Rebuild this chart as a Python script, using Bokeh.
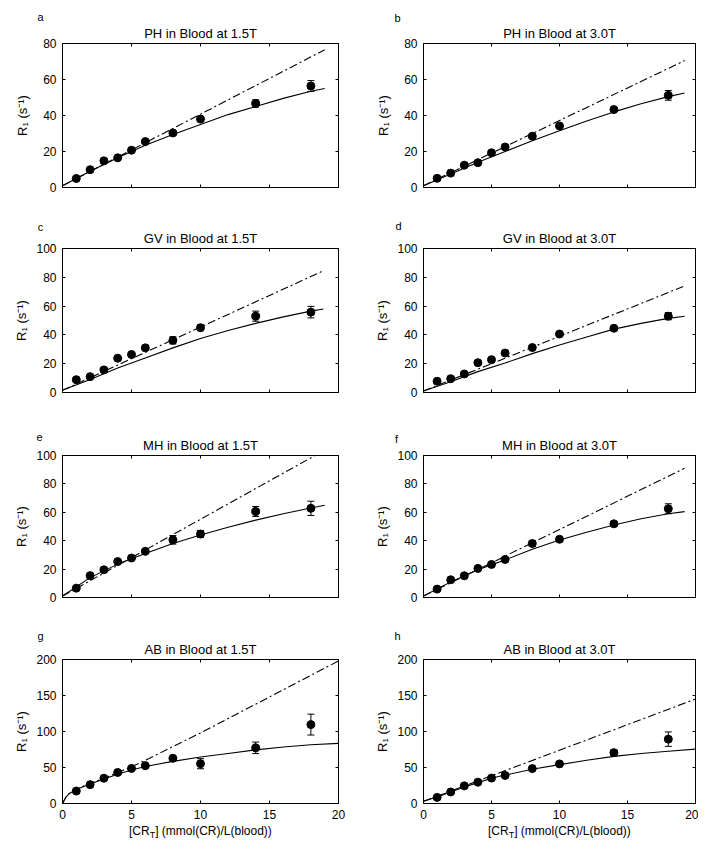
from bokeh.plotting import figure
from bokeh.models import (Range1d, LinearAxis, FixedTicker, Whisker, ColumnDataSource,
                          Label, TeeHead, CustomJSTickFormatter, Title, Div)
from bokeh.layouts import column, row
from bokeh.embed import file_html
from bokeh.resources import INLINE

FONT = "Liberation Sans"

# ---------------- data ----------------
conc = [1, 2, 3, 4, 5, 6, 8, 10, 14, 18]
x_ticks = [0, 5, 10, 15, 20]

# a: PH 1.5T
ph15_r1 = [5.0, 9.9, 14.8, 16.5, 20.7, 25.5, 30.3, 38.0, 46.7, 56.4]
ph15_err = [0.5, 0.5, 1.0, 0.5, 0.5, 0.5, 1.0, 1.0, 2.0, 3.0]
ph15_fit_x = [0, 2, 4, 6, 8, 10, 12, 14, 16, 18, 19]
ph15_fit_y = [1, 9, 16.5, 23.5, 29.5, 35, 40.5, 45, 49.5, 53.5, 55]
ph15_lin_x = [0, 19]
ph15_lin_y = [1, 76.5]

# b: PH 3.0T
ph30_r1 = [5.1, 8.0, 12.4, 13.8, 19.3, 22.5, 28.5, 34.2, 43.3, 51.2]
ph30_err = [0.5, 0.5, 0.5, 0.5, 0.5, 0.5, 0.8, 1.0, 1.0, 2.7]
ph30_fit_x = [0, 2, 4, 6, 8, 10, 12, 14, 16, 18, 19.2]
ph30_fit_y = [1, 7.5, 14, 20, 26, 31.5, 37, 42, 46.5, 50.5, 52.5]
ph30_lin_x = [0, 19.2]
ph30_lin_y = [1, 70.5]

# c: GV 1.5T
gv15_r1 = [8.9, 11.0, 15.7, 23.8, 26.4, 31.0, 36.2, 45.0, 53.0, 55.8]
gv15_err = [0.5, 0.5, 0.8, 0.5, 0.5, 0.5, 2.5, 2.0, 3.5, 4.0]
gv15_fit_x = [0, 2, 4, 6, 8, 10, 12, 14, 16, 18, 18.9]
gv15_fit_y = [1.5, 9, 17, 24, 31, 37.5, 43, 48, 52.5, 56.5, 58]
gv15_lin_x = [0, 18.9]
gv15_lin_y = [1.5, 84.5]

# d: GV 3.0T
gv30_r1 = [7.8, 9.6, 12.9, 20.7, 22.8, 27.4, 31.2, 40.6, 44.6, 53.0]
gv30_err = [0.5, 0.5, 0.5, 0.5, 0.5, 0.5, 0.5, 0.5, 1.0, 2.5]
gv30_fit_x = [0, 2, 4, 6, 8, 10, 12, 14, 16, 18, 19.2]
gv30_fit_y = [1, 7.5, 14.5, 20.5, 27, 33, 38.5, 44, 48, 51.5, 53]
gv30_lin_x = [0, 19.2]
gv30_lin_y = [1, 74]

# e: MH 1.5T
mh15_r1 = [6.6, 15.4, 19.5, 25.3, 27.8, 32.5, 40.6, 44.7, 60.6, 62.8]
mh15_err = [0.5, 0.5, 0.5, 0.5, 0.5, 0.5, 3.0, 2.5, 3.5, 5.0]
mh15_fit_x = [0, 2, 4, 6, 8, 10, 12, 14, 16, 18, 19]
mh15_fit_y = [1, 14, 23.5, 31, 38, 44, 49.5, 54.5, 59, 63, 65]
mh15_lin_x = [0, 19]
mh15_lin_y = [1, 103.8]

# f: MH 3.0T
mh30_r1 = [5.9, 12.5, 15.3, 20.5, 23.3, 26.8, 38.0, 41.0, 51.9, 62.5]
mh30_err = [0.5, 0.5, 0.5, 0.5, 0.5, 0.5, 2.0, 0.5, 1.5, 3.5]
mh30_fit_x = [0, 2, 4, 6, 8, 10, 12, 14, 16, 18, 19.2]
mh30_fit_y = [1, 11, 19.5, 26.5, 34, 40.5, 46, 51, 55.5, 59, 60.5]
mh30_lin_x = [0, 19.2]
mh30_lin_y = [1, 91]

# g: AB 1.5T
ab15_r1 = [17.3, 26.2, 35.1, 43.1, 48.7, 52.5, 62.8, 55.3, 77.3, 109.6]
ab15_err = [1.0, 1.0, 1.5, 1.0, 1.0, 1.0, 1.5, 7.0, 8.0, 14.5]
ab15_fit_x = [0, 0.25, 0.5, 1, 2, 3, 4, 5, 6, 8, 10, 12, 14, 16, 18, 20]
ab15_fit_y = [0, 9, 14, 19.5, 27, 34, 40.5, 46.5, 51.5, 58.5, 64.5, 69.5, 74.5, 78.5, 81.5, 83.5]
ab15_lin_x = [0, 0.25, 0.5, 1, 2, 3, 4, 5, 6, 8, 10, 12, 14, 16, 18, 20]
ab15_lin_y = [0, 9, 14, 20, 28, 35, 43, 51, 60, 79, 98, 118, 138, 158, 178, 198]

# h: AB 3.0T
ab30_r1 = [8.5, 16.0, 24.5, 29.6, 35.3, 39.0, 48.5, 55.0, 70.6, 89.4]
ab30_err = [0.5, 0.5, 0.5, 0.5, 0.5, 0.5, 1.0, 3.0, 4.0, 10.0]
ab30_fit_x = [0, 1, 2, 3, 4, 5, 6, 8, 10, 12, 14, 16, 18, 20]
ab30_fit_y = [3, 9, 16, 23, 29, 35, 39.5, 47.5, 54, 60, 65.5, 69.5, 72.5, 75.5]
ab30_lin_x = [0, 20]
ab30_lin_y = [3, 145]

titles = ["PH in Blood at 1.5T", "PH in Blood at 3.0T",
          "GV in Blood at 1.5T", "GV in Blood at 3.0T",
          "MH in Blood at 1.5T", "MH in Blood at 3.0T",
          "AB in Blood at 1.5T", "AB in Blood at 3.0T"]
letters = ["a", "b", "c", "d", "e", "f", "g", "h"]
y_label = "R\u2081 (s\u207b\u00b9)"
x_label_parts = ["[CR", "T", "] (mmol(CR)/L(blood))"]

LEFT_W = (62, 276, 23)
RIGHT_W = (62, 272, 3)


def make_panel(letter, title, r1, err, fit_x, fit_y, lin_x, lin_y, ymax, ystep,
               col, frame_h, top_b, bot_b, letter_x, letter_y, bottom_row):
    lb, fw, rb = LEFT_W if col == 0 else RIGHT_W
    p = figure(frame_width=fw, frame_height=frame_h,
               x_range=Range1d(0, 20), y_range=Range1d(0, ymax),
               output_backend="svg", toolbar_location=None,
               min_border_left=lb, min_border_right=rb,
               min_border_top=top_b, min_border_bottom=bot_b,
               background_fill_color="white", border_fill_color="white",
               outline_line_color="black", outline_line_width=1)
    p.grid.visible = False
    yt = list(range(0, ymax + 1, ystep))

    xa = p.below[0]
    ya = p.left[0]
    for ax, ticks in ((xa, x_ticks), (ya, yt)):
        ax.ticker = FixedTicker(ticks=ticks)
        ax.major_tick_in = 3
        ax.major_tick_out = 0
        ax.minor_tick_line_color = None
        ax.axis_line_color = "black"
        ax.major_tick_line_color = "black"
        ax.major_label_text_font = FONT
        ax.major_label_text_font_size = "12px"
        ax.major_label_text_color = "black"
        ax.major_label_standoff = 6
    ya.axis_label = y_label
    ya.axis_label_text_font = FONT
    ya.axis_label_text_font_size = "13px"
    ya.axis_label_text_font_style = "normal"
    ya.axis_label_text_color = "black"
    ya.axis_label_standoff = 4 if ymax >= 100 else 10
    if not bottom_row:
        xa.formatter = CustomJSTickFormatter(code="return ''")
        xa.major_label_text_font_size = "0px"
        xa.major_label_standoff = 0

    for loc, ticks in (("above", x_ticks), ("right", yt)):
        ax = LinearAxis(ticker=FixedTicker(ticks=ticks),
                        formatter=CustomJSTickFormatter(code="return ''"),
                        major_tick_in=3, major_tick_out=0,
                        minor_tick_line_color=None,
                        major_label_text_font_size="0px",
                        major_label_standoff=0,
                        axis_line_color="black", major_tick_line_color="black")
        p.add_layout(ax, loc)

    t = Title(text=title, align="center", text_font=FONT, text_font_size="13px",
              text_font_style="normal", text_color="black", standoff=5)
    p.add_layout(t, "above")

    # curves
    p.line(lin_x, lin_y, line_color="black", line_width=1.1, line_dash="8 3 2 3")
    p.line(fit_x, fit_y, line_color="black", line_width=1.1)

    # error bars + points
    src = ColumnDataSource(dict(x=conc, y=r1,
                                upper=[v + e for v, e in zip(r1, err)],
                                lower=[v - e for v, e in zip(r1, err)]))
    wh = Whisker(source=src, base="x", upper="upper", lower="lower",
                 line_color="black", line_width=1,
                 upper_head=TeeHead(size=7, line_color="black", line_width=1),
                 lower_head=TeeHead(size=7, line_color="black", line_width=1))
    p.add_layout(wh)
    p.scatter("x", "y", source=src, marker="circle", size=8,
              fill_color="black", line_color="black")

    # panel letter (placed in a side panel so it is not clipped to the frame)
    p.add_layout(Label(x=letter_x, y=letter_y, x_units="canvas", y_units="canvas",
                       text=letter, text_font=FONT, text_font_size="11px",
                       text_color="black", text_align="center", text_baseline="middle"),
                 "left")
    return p


pa = make_panel(letters[0], titles[0], ph15_r1, ph15_err, ph15_fit_x, ph15_fit_y,
                ph15_lin_x, ph15_lin_y, 80, 20, 0, 144, 43, 26, 40, 16, False)
pb = make_panel(letters[1], titles[1], ph30_r1, ph30_err, ph30_fit_x, ph30_fit_y,
                ph30_lin_x, ph30_lin_y, 80, 20, 1, 144, 43, 26, 36, 17, False)
pc = make_panel(letters[2], titles[2], gv15_r1, gv15_err, gv15_fit_x, gv15_fit_y,
                gv15_lin_x, gv15_lin_y, 100, 20, 0, 144, 35, 28, 40, 13, False)
pd = make_panel(letters[3], titles[3], gv30_r1, gv30_err, gv30_fit_x, gv30_fit_y,
                gv30_lin_x, gv30_lin_y, 100, 20, 1, 144, 35, 28, 37, 12, False)
pe = make_panel(letters[4], titles[4], mh15_r1, mh15_err, mh15_fit_x, mh15_fit_y,
                mh15_lin_x, mh15_lin_y, 100, 20, 0, 142, 35, 27, 39, 16, False)
pf = make_panel(letters[5], titles[5], mh30_r1, mh30_err, mh30_fit_x, mh30_fit_y,
                mh30_lin_x, mh30_lin_y, 100, 20, 1, 142, 35, 27, 35, 18, False)
pg = make_panel(letters[6], titles[6], ab15_r1, ab15_err, ab15_fit_x, ab15_fit_y,
                ab15_lin_x, ab15_lin_y, 200, 50, 0, 144, 35, 20, 40, 11, True)
ph = make_panel(letters[7], titles[7], ab30_r1, ab30_err, ab30_fit_x, ab30_fit_y,
                ab30_lin_x, ab30_lin_y, 200, 50, 1, 144, 35, 20, 36, 11, True)


def x_label_div(dims):
    lb, fw, rb = dims
    label_w = 1.722 * 12 + 0.611 * 9 + 9.722 * 12
    start = int(round(lb + fw / 2 - label_w / 2))
    html = ('<div style="margin-left:%dpx;white-space:nowrap;line-height:14px;">'
            '%s<sub style="font-size:9px;line-height:0;">%s</sub>%s</div>'
            % (start, x_label_parts[0], x_label_parts[1], x_label_parts[2]))
    return Div(text=html, width=lb + fw + rb, height=18, margin=(0, 0, 0, 0),
               styles={"font-family": FONT, "font-size": "12px", "color": "black"})


layout = column(row(pa, pb), row(pc, pd), row(pe, pf), row(pg, ph),
                row(x_label_div(LEFT_W), x_label_div(RIGHT_W)))

open("out.html", "w").write(file_html(layout, INLINE))
